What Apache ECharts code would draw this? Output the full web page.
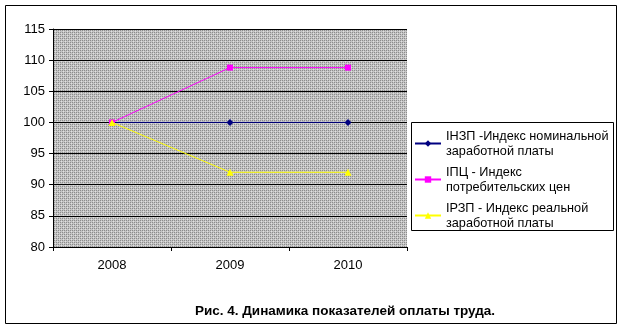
<!DOCTYPE html>
<html><head><meta charset="utf-8">
<script src="https://cdn.jsdelivr.net/npm/echarts@6/dist/echarts.min.js"></script>
<style>html,body{margin:0;padding:0;background:#fff}#c{width:623px;height:330px}</style>
</head><body><div id="c"></div>
<script>
const categories = ['2008', '2009', '2010'];
const nominalWage = [100, 100, 100];
const consumerPrices = [100, 108.8, 108.8];
const realWage = [100, 92, 92];
const seriesNames = ['IНЗП -Индекс номинальной\nзаработной платы', 'IПЦ - Индекс\nпотребительских цен', 'IРЗП - Индекс реальной\nзаработной платы'];
const yTicks = {min: 80, max: 115, interval: 5};
const captionText = 'Рис. 4. Динамика показателей оплаты труда.';

const pc = document.createElement('canvas');
pc.width = 4; pc.height = 4;
const g = pc.getContext('2d');
g.fillStyle = '#c4c4c4'; g.fillRect(0,0,4,4);
g.fillStyle = '#8c8c8c';
g.fillRect(0,0,1,1); g.fillRect(2,0,1,1); g.fillRect(0,2,1,1); g.fillRect(2,2,1,1);
g.fillStyle = '#e0e0e0';
g.fillRect(1,1,1,1); g.fillRect(3,3,1,1);

const chart = echarts.init(document.getElementById('c'), null, {renderer: 'canvas'});
const font = 'Liberation Sans, Arial, sans-serif';
chart.setOption({
  animation: false,
  backgroundColor: '#fff',
  graphic: [
    {type: 'rect', shape: {x: 5.5, y: 5.5, width: 611, height: 318}, style: {fill: null, stroke: '#000', lineWidth: 1}, z: -1},
    {type: 'rect', shape: {x: 411.5, y: 122.5, width: 202, height: 108}, style: {fill: '#fff', stroke: '#000', lineWidth: 1}, z: 0}
  ],
  title: {text: captionText, left: 340, textAlign: 'center', top: 299,
    textStyle: {fontFamily: font, fontSize: 13.5, fontWeight: 'bold', color: '#000'}},
  grid: {left: 53, top: 29, width: 354, height: 218, show: true,
    backgroundColor: {image: pc, repeat: 'repeat'}, borderWidth: 0},
  legend: {
    orient: 'vertical', left: 414, top: 121, padding: 0, itemGap: -9, itemWidth: 26, itemHeight: 8,
    textStyle: {fontFamily: font, fontSize: 12.7, color: '#000', lineHeight: 15, padding: [15, 0, 0, 0]},
    data: seriesNames.map(n => ({name: n}))
  },
  xAxis: {
    type: 'category', data: categories, boundaryGap: true,
    axisLine: {lineStyle: {color: '#000', width: 1}},
    axisTick: {show: true, length: 4, lineStyle: {color: '#000'}},
    axisLabel: {fontFamily: font, fontSize: 13, color: '#000', margin: 12},
    splitLine: {show: false}
  },
  yAxis: {
    type: 'value', min: yTicks.min, max: yTicks.max, interval: yTicks.interval,
    axisLine: {show: true, lineStyle: {color: '#000', width: 1}},
    axisTick: {show: true, length: 4, lineStyle: {color: '#000'}},
    axisLabel: {fontFamily: font, fontSize: 13, color: '#000', margin: 8},
    splitLine: {show: true, lineStyle: {color: '#000', width: 1}}
  },
  series: [
    {name: seriesNames[0], type: 'line', data: nominalWage, symbol: 'diamond', symbolSize: 7,
      lineStyle: {color: '#000080', width: 1}, itemStyle: {color: '#000080'}, z: 3},
    {name: seriesNames[1], type: 'line', data: consumerPrices, symbol: 'rect', symbolSize: 6,
      lineStyle: {color: '#ff00ff', width: 1}, itemStyle: {color: '#ff00ff'}, z: 4},
    {name: seriesNames[2], type: 'line', data: realWage, symbol: 'triangle', symbolSize: 7,
      lineStyle: {color: '#ffff00', width: 1}, itemStyle: {color: '#ffff00'}, z: 5}
  ]
});
</script></body></html>
